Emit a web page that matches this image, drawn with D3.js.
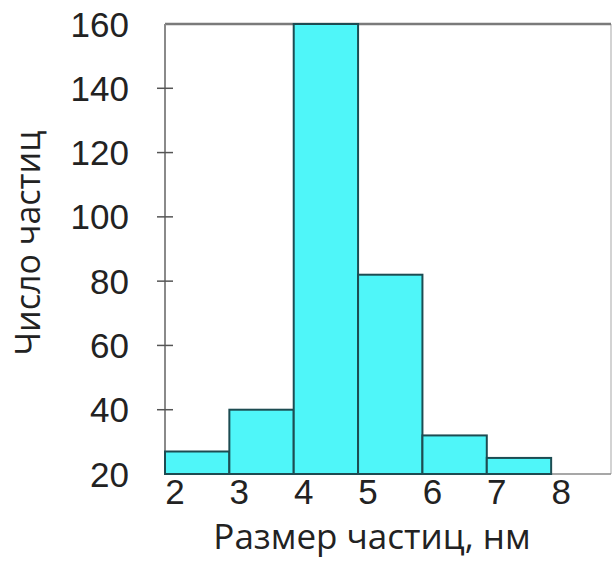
<!DOCTYPE html>
<html>
<head>
<meta charset="utf-8">
<script src="https://cdn.jsdelivr.net/npm/d3@7"></script>
<style>
  body { margin: 0; background: #fff; }
  svg { display: block; }
</style>
</head>
<body>
<svg id="chart" width="612" height="567"></svg>
<script>
// bin edges (nm) and counts per bin
let binStart = [2, 3, 4, 5, 6, 7];
let binEnd = [3, 4, 5, 6, 7, 8];
let counts = [27, 40, 160, 82, 32, 25];
let yTicks = [20, 40, 60, 80, 100, 120, 140, 160];
let xTicks = [2, 3, 4, 5, 6, 7, 8];
let xTitle = "Размер частиц, нм";
let yTitle = "Число частиц";

let svg = d3.select("#chart");
let plotLeft = 165, plotRight = 611, plotTop = 24, plotBottom = 474;

let x = d3.scaleLinear().domain([2, 8.93]).range([plotLeft, plotRight]);
let y = d3.scaleLinear().domain([20, 160]).range([plotBottom, plotTop]);

// frame
svg.append("line").attr("x1", plotRight).attr("x2", plotRight).attr("y1", plotTop).attr("y2", plotBottom)
    .attr("stroke", "#c4c4c4").attr("stroke-width", 1.5);
svg.append("line").attr("x1", plotLeft).attr("x2", plotRight).attr("y1", plotTop).attr("y2", plotTop)
    .attr("stroke", "#7a7a7a").attr("stroke-width", 2.5);
svg.append("line").attr("x1", plotLeft).attr("x2", plotRight).attr("y1", plotBottom).attr("y2", plotBottom)
    .attr("stroke", "#8a8a8a").attr("stroke-width", 1.5);
svg.append("line").attr("x1", plotLeft).attr("x2", plotLeft).attr("y1", plotTop).attr("y2", plotBottom)
    .attr("stroke", "#8a8a8a").attr("stroke-width", 2);

// bars
svg.append("g").selectAll("rect")
    .data(counts)
    .join("rect")
    .attr("x", (d, i) => x(binStart[i]))
    .attr("width", (d, i) => x(binEnd[i]) - x(binStart[i]))
    .attr("y", d => y(d))
    .attr("height", d => y(20) - y(d))
    .attr("fill", "#4ff6f9")
    .attr("stroke", "#1d4c52")
    .attr("stroke-width", 2);

// y ticks (crossing the axis) and labels
svg.append("g").selectAll("line")
    .data(yTicks.filter(d => d > 20 && d < 160))
    .join("line")
    .attr("x1", plotLeft - 8).attr("x2", plotLeft + 8)
    .attr("y1", d => y(d)).attr("y2", d => y(d))
    .attr("stroke", "#555").attr("stroke-width", 1.5);

svg.append("g").selectAll("text")
    .data(yTicks)
    .join("text")
    .attr("x", 129)
    .attr("y", d => y(d))
    .attr("dy", "0.36em")
    .attr("text-anchor", "end")
    .style("font-family", "'Liberation Sans', Arial, sans-serif")
    .style("font-size", "35px")
    .attr("fill", "#222")
    .text(d => d);

// x labels
svg.append("g").selectAll("text")
    .data(xTicks)
    .join("text")
    .attr("x", d => x(d) + 10)
    .attr("y", 504)
    .attr("text-anchor", "middle")
    .style("font-family", "'Liberation Sans', Arial, sans-serif")
    .style("font-size", "35px")
    .attr("fill", "#222")
    .text(d => d);

// axis titles
svg.append("text")
    .attr("x", 372).attr("y", 549)
    .attr("text-anchor", "middle")
    .style("font-family", "'Open Sans', 'Noto Sans', sans-serif")
    .style("font-size", "35px")
    .attr("fill", "#222")
    .text(xTitle);

svg.append("text")
    .attr("transform", "translate(40,243) rotate(-90)")
    .attr("text-anchor", "middle")
    .style("font-family", "'Open Sans', 'Noto Sans', sans-serif")
    .style("font-size", "34px")
    .attr("fill", "#222")
    .text(yTitle);
</script>
</body>
</html>
